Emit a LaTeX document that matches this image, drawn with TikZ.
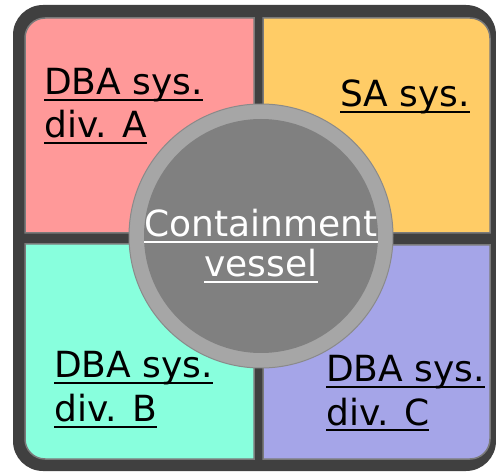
\documentclass[tikz,border=0pt]{standalone}
\usepackage{fontspec}
\setmainfont{DejaVu Sans}
% text with a rule a fixed distance under the baseline
\newcommand\ulword[1]{\setbox0\hbox{#1}\rlap{\rule[-6pt]{\wd0}{2pt}}\box0}
\definecolor{frame}{HTML}{404040}
\definecolor{edge}{HTML}{7A7A7A}
\definecolor{divA}{HTML}{FF9999}
\definecolor{sasys}{HTML}{FFCC66}
\definecolor{divB}{HTML}{88FFDD}
\definecolor{divC}{HTML}{A5A5E8}
\definecolor{ring}{HTML}{A6A6A6}
\definecolor{ringedge}{HTML}{8A8A8A}
\definecolor{core}{HTML}{808080}
\begin{document}
\begin{tikzpicture}[x=1pt,y=-1pt,
  quad/.style={draw=edge, line width=1.5pt},
  lbl/.style={inner sep=0pt, anchor=base west, font=\fontsize{36}{43}\selectfont}]
\useasboundingbox (0,0) rectangle (496,473);
% dark frame
\fill[frame, rounded corners=30] (13,5) rectangle (496,471);
% four quadrants, each rounded only at its outer corner
\path[quad, fill=divA]  (254,233) -- (25,233) [rounded corners=20] -- (25,18) [sharp corners] -- (254,18) -- cycle;
\path[quad, fill=sasys] (263,233) -- (263,18) [rounded corners=20] -- (490,18) [sharp corners] -- (490,233) -- cycle;
\path[quad, fill=divB]  (254,244) -- (25,244) [rounded corners=20] -- (25,459) [sharp corners] -- (254,459) -- cycle;
\path[quad, fill=divC]  (263,245) -- (490,245) [rounded corners=20] -- (490,459) [sharp corners] -- (263,459) -- cycle;
% containment vessel
\node[circle, draw=ringedge, line width=1pt, fill=ring, minimum size=264pt, inner sep=0pt] (shell) at (261,236) {};
\node[circle, fill=core, minimum size=234pt, inner sep=0pt] (core) at (shell.center) {};
% labels
\node[lbl] (a1) at (44,95) {\ulword{DBA sys.}};
\node[lbl] (a2) at (44,138) {\ulword{div. A}};
\node[lbl] (sa) at (340,107) {\ulword{SA sys.}};
\node[lbl] (b1) at (54,378) {\ulword{DBA sys.}};
\node[lbl] (b2) at (54,422) {\ulword{div. B}};
\node[lbl] (c1) at (326,382) {\ulword{DBA sys.}};
\node[lbl] (c2) at (326,425) {\ulword{div. C}};
\node[lbl, anchor=base, text=white] (v1) at (261,237) {\ulword{Containment}};
\node[lbl, anchor=base, text=white] (v2) at (261,277) {\ulword{vessel}};
\end{tikzpicture}
\end{document}
